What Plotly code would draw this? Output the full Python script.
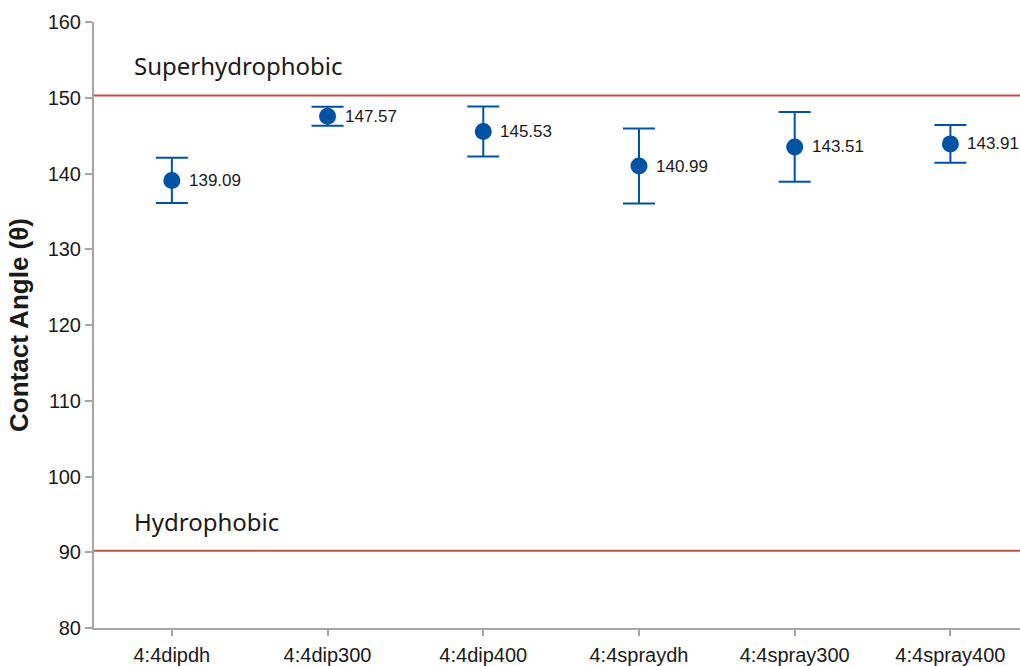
import plotly.graph_objects as go

categories = ["4:4dipdh", "4:4dip300", "4:4dip400", "4:4spraydh", "4:4spray300", "4:4spray400"]
contact_angle = [139.09, 147.57, 145.53, 140.99, 143.51, 143.91]
error = [3.0, 1.25, 3.3, 4.95, 4.6, 2.5]
y_ticks = [80, 90, 100, 110, 120, 130, 140, 150, 160]
threshold_values = [150.3, 90.2]
threshold_labels = ["Superhydrophobic", "Hydrophobic"]
threshold_label_y = [154.2, 94.1]

blue = "#0052a5"
red = "#c0504d"
grey = "#a6a6a6"

fig = go.Figure()
fig.add_trace(go.Scatter(
    x=list(range(len(categories))), y=contact_angle, mode="markers",
    marker=dict(color=blue, size=17),
    error_y=dict(type="data", array=error, visible=True, color=blue, thickness=2, width=16),
    showlegend=False, hoverinfo="skip",
))

for v, lbl, ly in zip(threshold_values, threshold_labels, threshold_label_y):
    fig.add_shape(type="line", xref="paper", x0=0, x1=1, yref="y", y0=v, y1=v,
                  line=dict(color=red, width=2), layer="below")
    fig.add_annotation(xref="paper", x=0.041, y=ly, text=lbl, showarrow=False,
                       xanchor="left", yanchor="middle",
                       font=dict(family="Noto Sans", size=24, color="#1a1a1a"))

for i, v in enumerate(contact_angle):
    fig.add_annotation(x=i, y=v, text=f"{v:.2f}", showarrow=False, xanchor="left",
                       yanchor="middle", xshift=15,
                       font=dict(family="Liberation Sans", size=17, color="#1a1a1a"))

fig.update_layout(
    width=1020, height=666, margin=dict(l=94, r=0, t=22, b=35),
    plot_bgcolor="white", paper_bgcolor="white",
    font=dict(family="Liberation Sans", color="#1a1a1a"),
)
fig.update_xaxes(
    range=[-0.5, 5.447], tickmode="array", tickvals=list(range(len(categories))),
    ticktext=categories, showgrid=False, zeroline=False, showline=True,
    linecolor=grey, linewidth=2, ticks="outside", ticklen=6, tickcolor=grey, tickwidth=2,
    tickfont=dict(size=20, color="#1a1a1a"), ticklabelstandoff=2,
)
fig.update_yaxes(
    range=[80, 160], tickvals=y_ticks, showgrid=False, zeroline=False, showline=True,
    linecolor=grey, linewidth=2, ticks="outside", ticklen=7, tickcolor=grey, tickwidth=2,
    tickfont=dict(size=20, color="#1a1a1a"),
    title=dict(text="<b>Contact Angle (θ)</b>", font=dict(size=26, color="#1a1a1a"), standoff=12),
)

fig.write_html("out.html")
